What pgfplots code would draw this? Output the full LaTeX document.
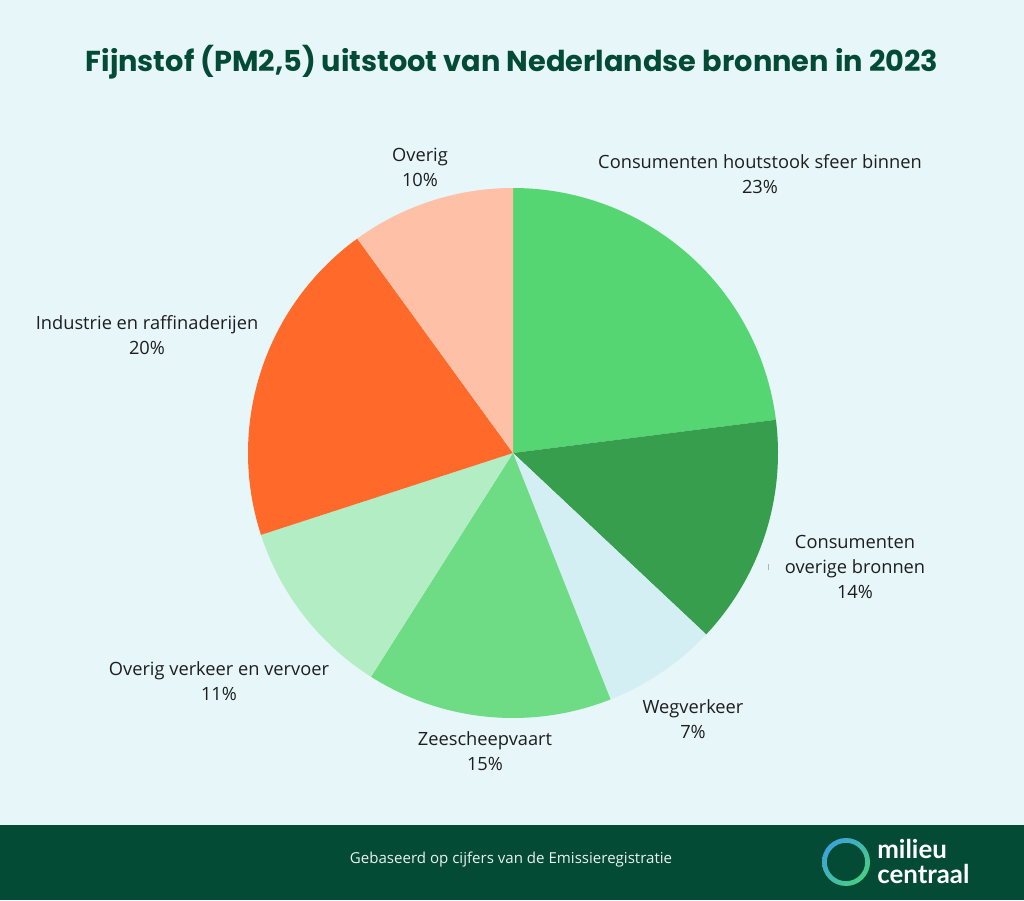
\documentclass[border=0pt]{standalone}
\usepackage{pgfplots}
\pgfplotsset{compat=1.18}
\usepackage{pgfplotstable}
\usepackage{fontspec}
\setmainfont{Open Sans}
\newfontfamily\titlefont{Poppins}
\newfontfamily\logofont{Lato}
\usetikzlibrary{shadings}

\definecolor{bg}{HTML}{E7F6F9}
\definecolor{mcgreen}{HTML}{034B35}
\definecolor{cA}{HTML}{55D672}
\definecolor{cB}{HTML}{369E4D}
\definecolor{cC}{HTML}{D4EFF3}
\definecolor{cD}{HTML}{6DDC85}
\definecolor{cE}{HTML}{B2EDC4}
\definecolor{cF}{HTML}{FF6A2B}
\definecolor{cG}{HTML}{FFC0A8}
\definecolor{txt}{HTML}{1E1E1E}
\definecolor{ringA}{HTML}{3A9BEA}
\definecolor{ringB}{HTML}{4CD670}

% PM2.5 shares (percent), clockwise from the top
\pgfplotstableread{
share colour
23 cA
14 cB
7  cC
15 cD
11 cE
20 cF
10 cG
}\pmdata

\begin{document}
\begin{tikzpicture}
\begin{axis}[
  x=0.75pt, y=0.75pt,
  xmin=0, xmax=1024, ymin=0, ymax=900,
  enlargelimits=false, hide axis, clip=false,
  axis line style={draw=none},
]
% background and footer band
\fill[bg] (axis cs:0,0) rectangle (axis cs:1024,900);
\fill[mcgreen] (axis cs:0,0) rectangle (axis cs:1024,75);

% pie slices: centre (513,447), radius 265
\pgfplotstablegetrowsof{\pmdata}
\pgfmathtruncatemacro{\nrows}{\pgfplotsretval-1}
\def\cum{0}
\pgfplotsforeachungrouped \i in {0,...,\nrows}{%
  \pgfplotstablegetelem{\i}{share}\of\pmdata
  \let\val\pgfplotsretval
  \pgfplotstablegetelem{\i}{colour}\of\pmdata
  \let\col\pgfplotsretval
  \pgfmathsetmacro{\aStart}{90-3.6*\cum}
  \pgfmathsetmacro{\aEnd}{90-3.6*(\cum+\val)}
  \edef\temp{\noexpand\addplot[fill=\col, draw=none, domain=\aEnd:\aStart, samples=80, variable=\noexpand\t]
    ({513+265*cos(\noexpand\t)},{447+265*sin(\noexpand\t)}) -- (axis cs:513,447) -- cycle;}
  \temp
  \pgfmathsetmacro{\cum}{\cum+\val}
  \global\let\cum\cum
}

% slice labels
\tikzset{lbl/.style={font=\fontsize{13.7}{18.6}\selectfont, text=txt, align=center, inner sep=0pt}}
\node[lbl] at (axis cs:760,726) {Consumenten houtstook sfeer binnen\\23\%};
\node[lbl] at (axis cs:855,333) {Consumenten\\overige bronnen\\14\%};
\node[lbl] at (axis cs:693,181) {Wegverkeer\\7\%};
\node[lbl] at (axis cs:485,149) {Zeescheepvaart\\15\%};
\node[lbl] at (axis cs:219,219) {Overig verkeer en vervoer\\11\%};
\node[lbl] at (axis cs:147,565) {Industrie en raffinaderijen\\20\%};
\node[lbl] at (axis cs:420,733) {Overig\\10\%};
\draw[gray!60, line width=0.6pt] (axis cs:768,330) -- (axis cs:768,336);

% title
\node[font=\titlefont\bfseries\fontsize{21.6}{26}\selectfont, text=mcgreen] at (axis cs:512,838)
  {Fijnstof (PM2,5) uitstoot van Nederlandse bronnen in 2023};

% footer
\node[font=\fontsize{11.3}{12}\selectfont, text=white!92!mcgreen] at (axis cs:511,40)
  {Gebaseerd op cijfers van de Emissieregistratie};
\shade[upper left=ringA, upper right=ringA!50!ringB, lower left=ringA!50!ringB, lower right=ringB, even odd rule]
  (axis cs:846,38) circle[radius=18pt] (axis cs:846,38) circle[radius=14.4pt];
\node[font=\logofont\bfseries\fontsize{19.4}{20}\selectfont, text=white, anchor=west, inner sep=0pt] at (axis cs:877,51) {milieu};
\node[font=\logofont\bfseries\fontsize{19.4}{20}\selectfont, text=white, anchor=west, inner sep=0pt] at (axis cs:877,26) {centraal};
\end{axis}
\end{tikzpicture}
\end{document}
